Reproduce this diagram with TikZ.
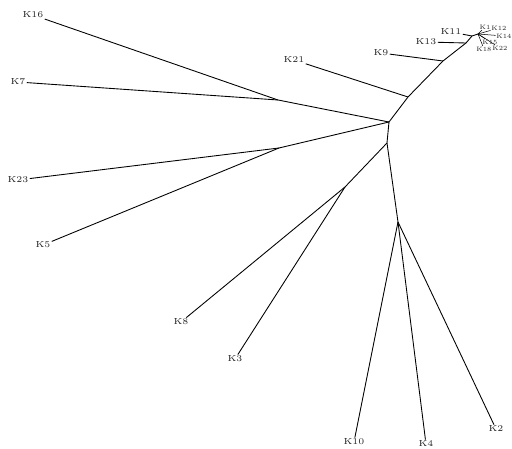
\documentclass[tikz,border=0pt]{standalone}
\begin{document}
\begin{tikzpicture}[x=0.02cm,y=-0.02cm,line width=0.5pt]
\tikzset{leaf/.style={font=\fontsize{5}{6}\selectfont,inner sep=0.5pt,text=black!85},
  twig/.style={font=\fontsize{3.6}{4}\selectfont,inner sep=0.3pt,text=black!85}}
\useasboundingbox (0,0) rectangle (512,449);

% inner points of the tree
\coordinate (a) at (278,100);
\coordinate (b) at (279,148);
\coordinate (A) at (389,122);
\coordinate (B) at (387,143);
\coordinate (C) at (345,187);
\coordinate (D) at (398,222);
\coordinate (E) at (408,97);
\coordinate (F) at (443,61);
\coordinate (G) at (466,43);
\coordinate (H) at (472,36);
\coordinate (I) at (478,34);

% leaves
\node[leaf] (k16) at (33,15) {K16};
\node[leaf] (k7) at (18,82) {K7};
\node[leaf] (k23) at (18,180) {K23};
\node[leaf] (k5) at (43,245) {K5};
\node[leaf] (k8) at (181,322) {K8};
\node[leaf] (k3) at (235,359) {K3};
\node[leaf] (k10) at (354,442) {K10};
\node[leaf] (k4) at (426,444) {K4};
\node[leaf] (k2) at (496,429) {K2};
\node[leaf] (k21) at (294,60) {K21};
\node[leaf] (k9) at (381,53) {K9};
\node[leaf] (k13) at (426,42) {K13};
\node[leaf] (k11) at (451,32) {K11};
\node[twig] (k1) at (485,27) {K1};
\node[twig] (k12) at (499,28) {K12};
\node[twig] (k14) at (504,36) {K14};
\node[twig] (k15) at (490,42) {K15};
\node[twig] (k18) at (484,49) {K18};
\node[twig] (k22) at (500,48) {K22};

% branches
\draw (k16) -- (a) -- (A);
\draw (k7) -- (a);
\draw (k23) -- (b) -- (A);
\draw (k5) -- (b);
\draw (A) -- (B) -- (C) -- (k8);
\draw (C) -- (k3);
\draw (B) -- (D) -- (k10);
\draw (D) -- (k4);
\draw (D) -- (k2);
\draw (A) -- (E) -- (F) -- (G) -- (H) -- (I);
\draw (k21) -- (E);
\draw (k9) -- (F);
\draw (k13) -- (G);
\draw (k11) -- (H);
\foreach \k in {k1,k12,k14,k15,k18,k22}
  \draw[line width=0.3pt] (I) -- (\k);
\end{tikzpicture}
\end{document}
